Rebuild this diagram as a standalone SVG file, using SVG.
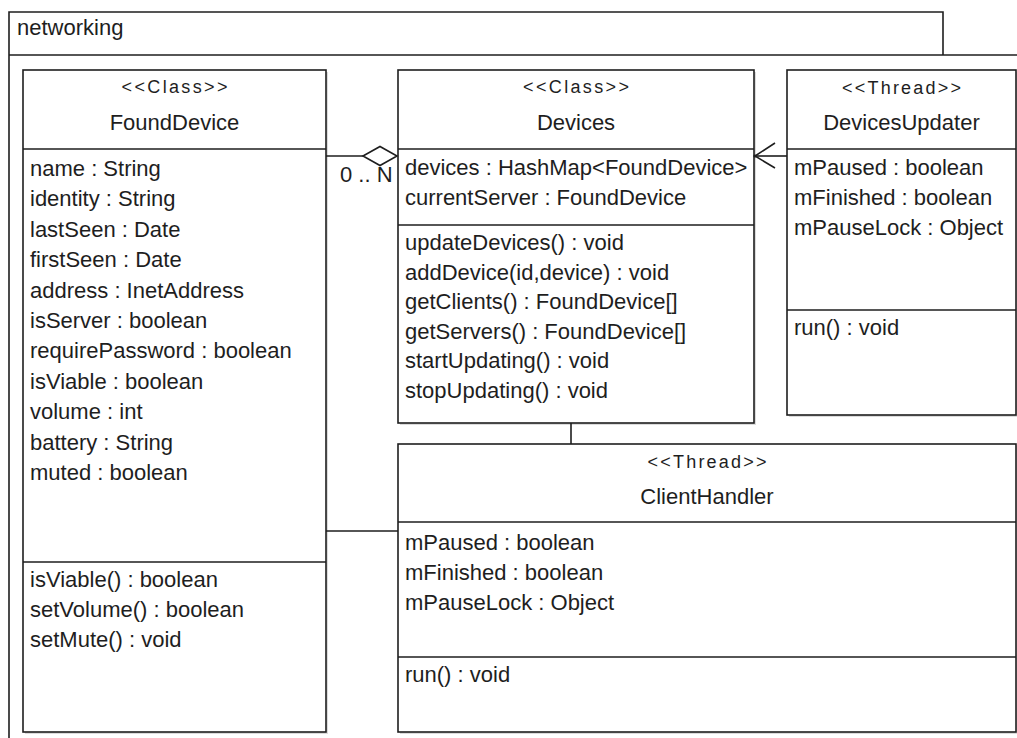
<svg xmlns="http://www.w3.org/2000/svg" width="1017" height="738" viewBox="0 0 1017 738">
<defs>
<style>
.t{font-family:"Liberation Sans",Arial,sans-serif;font-size:22px;fill:#1e1e1e}
.st{font-family:"Liberation Sans",Arial,sans-serif;font-size:18px;fill:#1e1e1e}
.c{text-anchor:middle}
.box{fill:#fff;stroke:#1e1e1e;stroke-width:1.6}
.sh{fill:#bdbdbd;opacity:0.55}
.ln{stroke:#1e1e1e;stroke-width:1.6;fill:none}
</style>
</defs>
<rect width="1017" height="738" fill="#fff"/>
<g id="package">
<path class="ln" d="M9,740 V12 H943 V55"/>
<line class="ln" x1="9" y1="55" x2="1020" y2="55"/>
<text class="t" x="17" y="35">networking</text>
</g>
<g id="FoundDevice">
<rect class="sh" x="25" y="72" width="303" height="662"/>
<rect class="box" x="23" y="70" width="303" height="662"/>
<line class="ln" x1="23" y1="149" x2="326" y2="149"/>
<line class="ln" x1="23" y1="562" x2="326" y2="562"/>
<text class="st c" x="174.5" y="93" textLength="106">&lt;&lt;Class&gt;&gt;</text>
<text class="t c" x="174.5" y="130">FoundDevice</text>
<text class="t" x="30" y="176">name : String</text>
<text class="t" x="30" y="206.4">identity : String</text>
<text class="t" x="30" y="236.8">lastSeen : Date</text>
<text class="t" x="30" y="267.2">firstSeen : Date</text>
<text class="t" x="30" y="297.6">address : InetAddress</text>
<text class="t" x="30" y="328">isServer : boolean</text>
<text class="t" x="30" y="358.4">requirePassword : boolean</text>
<text class="t" x="30" y="388.8">isViable : boolean</text>
<text class="t" x="30" y="419.2">volume : int</text>
<text class="t" x="30" y="449.6">battery : String</text>
<text class="t" x="30" y="480">muted : boolean</text>
<text class="t" x="30" y="587">isViable() : boolean</text>
<text class="t" x="30" y="617">setVolume() : boolean</text>
<text class="t" x="30" y="647">setMute() : void</text>
</g>
<g id="Devices">
<rect class="sh" x="400" y="72" width="356" height="353"/>
<rect class="box" x="398" y="70" width="356" height="353"/>
<line class="ln" x1="398" y1="149" x2="754" y2="149"/>
<line class="ln" x1="398" y1="225" x2="754" y2="225"/>
<text class="st c" x="576" y="93" textLength="106">&lt;&lt;Class&gt;&gt;</text>
<text class="t c" x="576" y="130">Devices</text>
<text class="t" x="405" y="175">devices : HashMap&lt;FoundDevice&gt;</text>
<text class="t" x="405" y="205">currentServer : FoundDevice</text>
<text class="t" x="405" y="250">updateDevices() : void</text>
<text class="t" x="405" y="279.6">addDevice(id,device) : void</text>
<text class="t" x="405" y="309.2">getClients() : FoundDevice[]</text>
<text class="t" x="405" y="338.8">getServers() : FoundDevice[]</text>
<text class="t" x="405" y="368.4">startUpdating() : void</text>
<text class="t" x="405" y="398">stopUpdating() : void</text>
</g>
<g id="DevicesUpdater">
<rect class="sh" x="789" y="72" width="229" height="345"/>
<rect class="box" x="787" y="70" width="229" height="345"/>
<line class="ln" x1="787" y1="149" x2="1016" y2="149"/>
<line class="ln" x1="787" y1="310" x2="1016" y2="310"/>
<text class="st c" x="901.5" y="94" textLength="119">&lt;&lt;Thread&gt;&gt;</text>
<text class="t c" x="901.5" y="130">DevicesUpdater</text>
<text class="t" x="794" y="175">mPaused : boolean</text>
<text class="t" x="794" y="205">mFinished : boolean</text>
<text class="t" x="794" y="235">mPauseLock : Object</text>
<text class="t" x="794" y="335">run() : void</text>
</g>
<g id="ClientHandler">
<rect class="sh" x="400" y="446" width="618" height="288"/>
<rect class="box" x="398" y="444" width="618" height="288"/>
<line class="ln" x1="398" y1="522" x2="1016" y2="522"/>
<line class="ln" x1="398" y1="657" x2="1016" y2="657"/>
<text class="st c" x="707" y="468" textLength="119">&lt;&lt;Thread&gt;&gt;</text>
<text class="t c" x="707" y="504">ClientHandler</text>
<text class="t" x="405" y="550">mPaused : boolean</text>
<text class="t" x="405" y="580">mFinished : boolean</text>
<text class="t" x="405" y="610">mPauseLock : Object</text>
<text class="t" x="405" y="682">run() : void</text>
</g>
<g id="connectors">
<line class="ln" x1="326" y1="156" x2="363" y2="156"/>
<polygon points="363,156 380,146.5 397,156 380,165.5" fill="#fff" stroke="#1e1e1e" stroke-width="1.6"/>
<text class="t" x="340" y="182">0 .. N</text>
<line class="ln" x1="787" y1="156" x2="755" y2="156"/>
<polyline class="ln" points="775,143 755,156 775,168"/>
<circle cx="755" cy="156" r="1.6" fill="#1e1e1e"/>
<line class="ln" x1="571" y1="423" x2="571" y2="444"/>
<line class="ln" x1="326" y1="531" x2="398" y2="531"/>
</g>
</svg>
